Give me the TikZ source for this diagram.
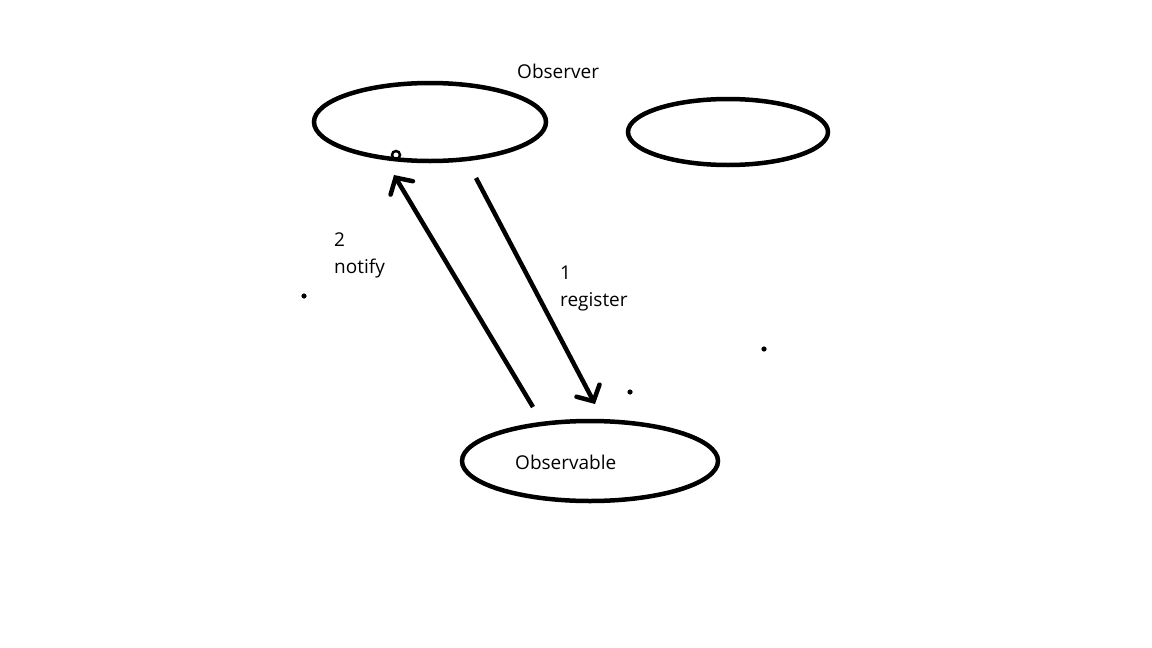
\documentclass[tikz,border=0pt]{standalone}
\usepackage{fontspec}
\setmainfont{Open Sans}
\usetikzlibrary{arrows.meta}
\begin{document}
\begin{tikzpicture}[x=1pt,y=-1pt,
  oval/.style={line width=4.5pt},
  conn/.style={line width=4.5pt,-{Straight Barb[length=12pt,width=26pt,line cap=round,line width=4.5pt]}},
  lbl/.style={font=\fontsize{19}{27}\selectfont,inner sep=0pt,anchor=west,align=left},
  dotmark/.style={fill=black,draw=none}]
\useasboundingbox (0,0) rectangle (1152,648);
\fill[white] (0,0) rectangle (1152,648);
% ellipses
\draw[oval] (430,122) ellipse [x radius=116, y radius=39];
\draw[oval] (728,132) ellipse [x radius=100, y radius=33];
\draw[oval] (590,461) ellipse [x radius=128, y radius=40];
\draw[line width=2.5pt] (396,155) circle [radius=4];
% connector endpoints
\coordinate (nfrom) at (533,407);
\coordinate (nto) at (394,175);
\coordinate (rfrom) at (476,178);
\coordinate (rto) at (595,404);
\draw[conn] (nfrom) -- (nto);
\draw[conn] (rfrom) -- (rto);
% labels
\node[lbl] (obs) at (517,71) {Observer};
\node[lbl] (notify) at (334,255) {2\\notify};
\node[lbl] (register) at (560,288) {1\\register};
\node[lbl] (obl) at (515,462) {Observable};
% dots
\fill[dotmark] (304,296) circle [radius=2.6];
\fill[dotmark] (630,392) circle [radius=2.6];
\fill[dotmark] (764,349) circle [radius=2.6];
\end{tikzpicture}
\end{document}
